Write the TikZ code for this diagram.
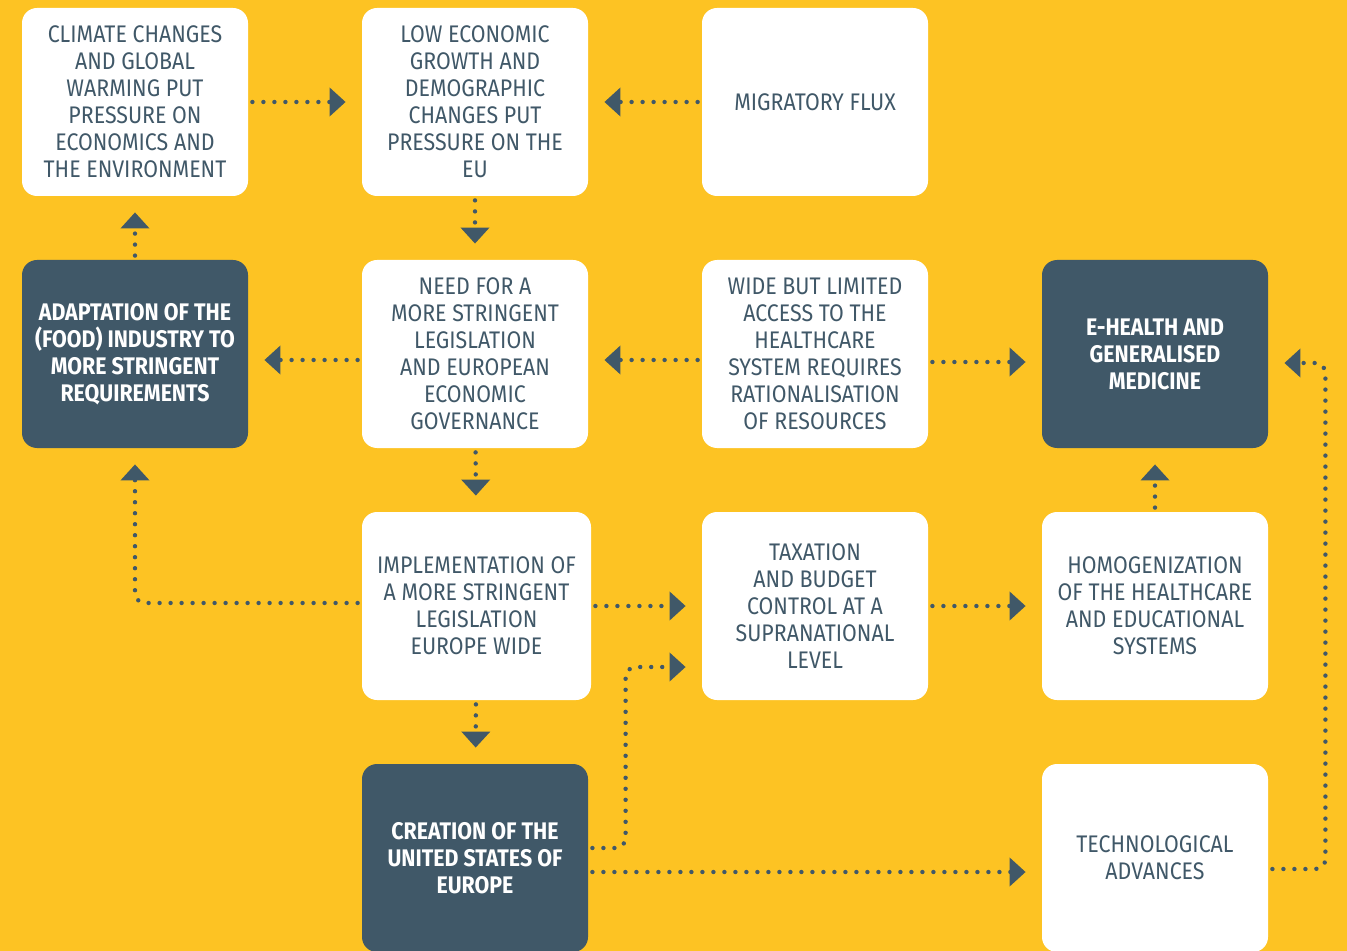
\documentclass[tikz,border=0pt]{standalone}
\usepackage{fontspec}
\setmainfont{Fira Sans}[FakeStretch=0.89]
\usepackage{xcolor}
\usetikzlibrary{arrows.meta, calc}

\definecolor{bgyellow}{HTML}{FDC323}
\definecolor{slate}{HTML}{405868}

\begin{document}
\begin{tikzpicture}[
        x=0.5pt, y=-0.5pt,
        lightbox/.style={rectangle, rounded corners=7.5pt, fill=white, text=slate,
            minimum width=113pt, minimum height=94pt, align=center,
            font=\fontsize{12}{13.5}\selectfont},
        darkbox/.style={lightbox, fill=slate, text=white,
            font=\bfseries\fontsize{12}{13.5}\selectfont},
        flow/.style={draw=slate, line width=2.2pt, line cap=round,
            dash pattern=on 0pt off 5.5pt, rounded corners=5pt,
            -{Triangle[length=8pt, width=14pt]}, shorten >=8pt, shorten <=2pt}
    ]

    % Background
    \fill[bgyellow] (0,0) rectangle (1347,951);
    \useasboundingbox (0,0) rectangle (1347,951);

    % Row 1
    \node[lightbox] (climate) at (135,102) {CLIMATE CHANGES\\AND GLOBAL\\WARMING PUT\\PRESSURE ON\\ECONOMICS AND\\THE ENVIRONMENT};
    \node[lightbox] (growth) at (475,102) {LOW ECONOMIC\\GROWTH AND\\DEMOGRAPHIC\\CHANGES PUT\\PRESSURE ON THE\\EU};
    \node[lightbox] (migr) at (815,102) {MIGRATORY FLUX};

    % Row 2
    \node[darkbox] (adapt) at (135,354) {ADAPTATION OF THE\\(FOOD) INDUSTRY TO\\MORE STRINGENT\\REQUIREMENTS};
    \node[lightbox] (need) at (475,354) {NEED FOR A\\MORE STRINGENT\\LEGISLATION\\AND EUROPEAN\\ECONOMIC\\GOVERNANCE};
    \node[lightbox] (access) at (815,354) {WIDE BUT LIMITED\\ACCESS TO THE\\HEALTHCARE\\SYSTEM REQUIRES\\RATIONALISATION\\OF RESOURCES};
    \node[darkbox] (ehealth) at (1155,354) {E-HEALTH AND\\GENERALISED\\MEDICINE};

    % Row 3
    \node[lightbox, minimum width=114.5pt] (impl) at (476.5,606) {IMPLEMENTATION OF\\A MORE STRINGENT\\LEGISLATION\\EUROPE WIDE};
    \node[lightbox] (tax) at (815,606) {TAXATION\\AND BUDGET\\CONTROL AT A\\SUPRANATIONAL\\LEVEL};
    \node[lightbox] (homog) at (1155,606) {HOMOGENIZATION\\OF THE HEALTHCARE\\AND EDUCATIONAL\\SYSTEMS};

    % Row 4
    \node[darkbox] (usoe) at (475,858) {CREATION OF THE\\UNITED STATES OF\\EUROPE};
    \node[lightbox] (tech) at (1155,858) {TECHNOLOGICAL\\ADVANCES};

    % Connectors
    \draw[flow] (climate) -- (growth);
    \draw[flow] (migr) -- (growth);
    \draw[flow] (growth) -- (need);
    \draw[flow] (adapt) -- (climate);
    \draw[flow] ($(need.west)+(0,6)$) -- ($(adapt.east)+(0,6)$);
    \draw[flow] ($(access.west)+(0,6)$) -- ($(need.east)+(0,6)$);
    \draw[flow] ($(access.east)+(0,8)$) -- ($(ehealth.west)+(0,8)$);
    \draw[flow] (need) -- (impl);
    \draw[flow] ($(impl.west)+(0,-3)$) -| (adapt.south);
    \draw[flow] (impl) -- (tax);
    \draw[flow] (impl) -- (usoe);
    \draw[flow] ($(usoe.east)+(0,-10)$) -| ($(tax.west)+(-76,61)$) -- ($(tax.west)+(0,61)$);
    \draw[flow] ($(usoe.east)+(0,14)$) -- ($(tech.west)+(0,14)$);
    \draw[flow] (tax) -- (homog);
    \draw[flow] (homog) -- (ehealth);
    \draw[flow] ($(tech.east)+(0,11)$) -| ($(ehealth.east)+(57,9)$) -- ($(ehealth.east)+(0,9)$);

\end{tikzpicture}
\end{document}
